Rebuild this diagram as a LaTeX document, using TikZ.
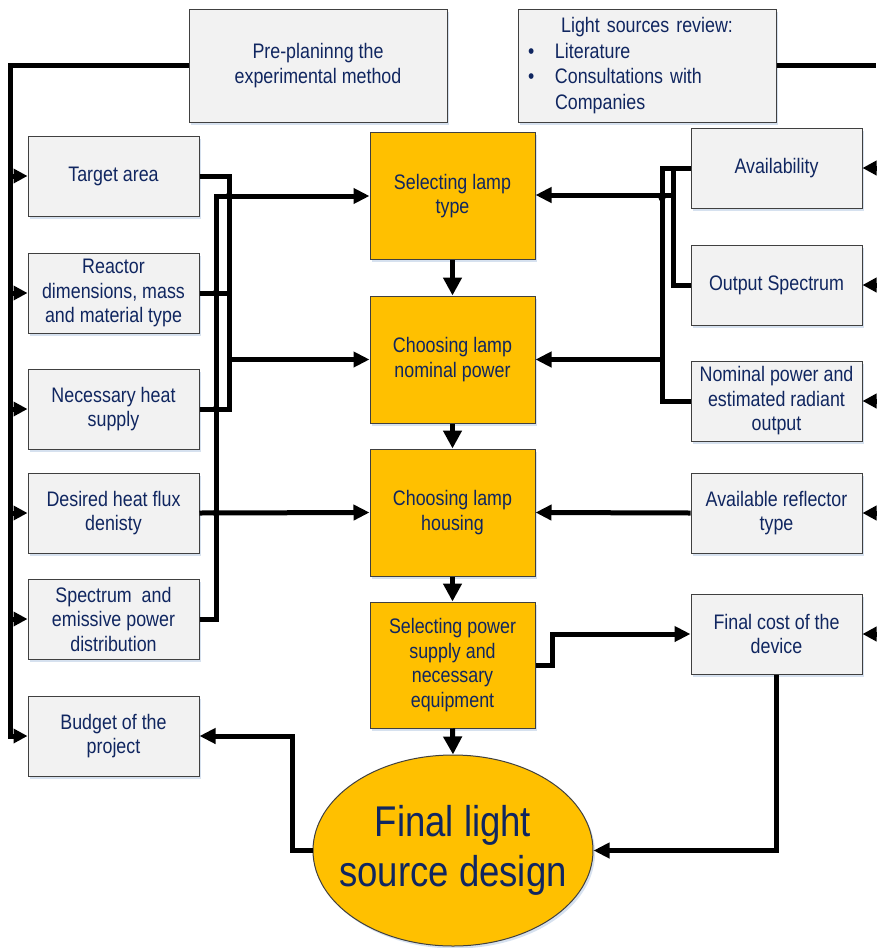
\documentclass[tikz,border=0pt]{standalone}
\usepackage{fontspec}
\setmainfont{Liberation Sans}[FakeStretch=0.85]
\usetikzlibrary{arrows.meta,shapes.geometric,shadows,calc}
\definecolor{txt}{RGB}{16,38,96}
\definecolor{gbox}{RGB}{242,242,242}
\definecolor{gold}{RGB}{255,192,0}
\definecolor{bord}{RGB}{64,64,64}
\definecolor{shd}{RGB}{210,222,238}
\begin{document}
\begin{tikzpicture}[x=1pt,y=-1pt,
  shad/.style={drop shadow={shadow xshift=2pt,shadow yshift=-2.5pt,fill=shd,opacity=0.9}},
  greybox/.style={draw=bord,line width=1pt,fill=gbox,shad,minimum width=171pt,minimum height=80pt,
    align=center,text=txt,font=\fontsize{21}{24.5}\selectfont,inner sep=2pt},
  goldbox/.style={draw=bord,line width=1pt,fill=gold,shad,minimum width=165pt,minimum height=127pt,
    align=center,text=txt,font=\fontsize{21}{24.7}\selectfont,inner sep=2pt},
  conn/.style={line width=5pt},
  arr/.style={conn,-{Triangle[length=16pt,width=15pt]}},
  larr/.style={conn,-{Triangle[length=14pt,width=14pt]}},
  darr/.style={line width=5pt,-{Triangle[length=18pt,width=18pt]}},
  hop/.style={fill=black}]
\fill[white] (0,0) rectangle (876,948);
\useasboundingbox (0,0) rectangle (876,948);

% top boxes
\node[greybox,minimum width=258pt,minimum height=113pt] (pre) at (318,65.5) {Pre-planinng the\\experimental method};
\node[greybox,minimum width=258pt,minimum height=113pt,text width=240pt,align=left,
  font=\fontsize{21}{25.6}\selectfont] (lsr) at (647,65.5)
  {\makebox[240pt][c]{Light sources review:}\\
   \makebox[28pt][l]{\hspace{1pt}\textbullet}Literature\\
   \makebox[28pt][l]{\hspace{1pt}\textbullet}Consultations with\\
   \hspace*{28pt}Companies};

% left boxes
\node[greybox] (tgt) at (113.5,176) {Target area};
\node[greybox] (rea) at (113.5,293) {Reactor\\dimensions, mass\\and material type};
\node[greybox] (nhs) at (113.5,409) {Necessary heat\\supply};
\node[greybox] (dhf) at (113.5,513) {Desired heat flux\\denisty};
\node[greybox] (spe) at (113.5,619) {Spectrum \ and\\emissive power\\distribution};
\node[greybox] (bud) at (113.5,736) {Budget of the\\project};

% middle boxes
\node[goldbox] (slt) at (452.5,196) {Selecting lamp\\type};
\node[goldbox] (cnp) at (452.5,359.5) {Choosing lamp\\nominal power};
\node[goldbox] (clh) at (452.5,512.5) {Choosing lamp\\housing};
\node[goldbox,minimum height=126pt] (sps) at (452.5,665) {Selecting power\\supply and\\necessary\\equipment};
\node[ellipse,draw=bord,line width=1pt,fill=gold,shad,minimum width=280pt,minimum height=191pt,
  align=center,text=txt,font=\fontsize{43}{50}\selectfont,inner xsep=-30pt,inner ysep=0pt] (fin) at (453,850.5)
  {Final light\\source design};

% right boxes
\node[greybox] (ava) at (776.5,168) {Availability};
\node[greybox] (ous) at (776.5,285) {Output Spectrum};
\node[greybox] (nom) at (776.5,401) {Nominal power and\\estimated radiant\\output};
\node[greybox] (art) at (776.5,513) {Available reflector\\type};
\node[greybox] (fcd) at (776.5,634) {Final cost of the\\device};

% helper coordinates
\coordinate (L0) at (10,0);
\coordinate (bL) at (216,0);
\coordinate (bR) at (229,0);
\coordinate (cR1) at (662,0);
\coordinate (cR2) at (673,0);
\coordinate (RE) at (876,0);

% left main bus
\draw[conn] (pre.west) -- (pre.west -| L0) -- ([yshift=-3pt]bud.west -| L0);
\foreach \n in {tgt,rea,nhs,dhf,spe,bud}
  \draw[larr] (\n.west -| L0) -- (\n.west);

% left inner buses
\draw[conn] (tgt.east) -| (bR |- nhs.east) -- (nhs.east);
\draw[conn] (rea.east) -- (rea.east -| bR);
\draw[arr] (bR |- cnp.west) -- (cnp.west);
\draw[arr] (spe.east) -| (bL |- slt.west) -- (slt.west);
\draw[arr] (dhf.east) -- (clh.west);
\fill[hop] (bR |- slt.west) circle (3.5pt);
\fill[hop] (bL |- rea.east) circle (3.5pt);
\fill[hop] (bL |- nhs.east) circle (3.5pt);
\fill[hop] (bL |- dhf.east) circle (3.5pt);

% middle chain
\draw[darr] (slt.south) -- (cnp.north);
\draw[darr] (cnp.south) -- (clh.north);
\draw[darr] (clh.south) -- (sps.north);
\draw[darr] (sps.south) -- (fin.north);

% right buses
\draw[conn] (ava.west) -| (cR1 |- nom.west) -- (nom.west);
\draw[conn] (ava.west -| cR2) |- (ous.west);
\draw[arr] ([yshift=1pt]cR2 |- slt.east) -- ([yshift=1pt]slt.east);
\draw[arr] (cR1 |- cnp.east) -- (cnp.east);
\fill[hop] ([yshift=-2pt]cR1 |- slt.east) circle (3.5pt);
\draw[arr] (art.west) -- (clh.east);
\draw[arr] (sps.east) -- ++(17,0) |- (fcd.west);
\draw[arr] (fcd.south) |- (fin.east);
\draw[arr] (fin.west) -- ++(-20,0) |- (bud.east);

% right edge
\draw[conn] (lsr.east) -- (lsr.east -| RE);
\foreach \n in {ava,ous,nom,art,fcd}
  \draw[larr] (\n.east -| RE) -- (\n.east);
\end{tikzpicture}
\end{document}
